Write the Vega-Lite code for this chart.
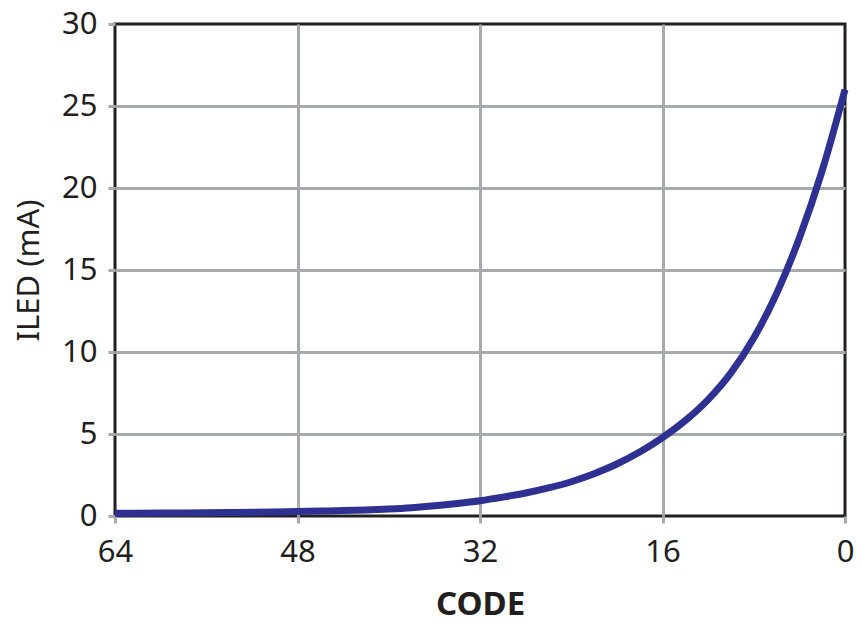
{
  "$schema": "https://vega.github.io/schema/vega-lite/v6.json",
  "width": 730,
  "height": 492,
  "autosize": {"type": "none"},
  "padding": {"left": 115, "top": 24, "right": 17, "bottom": 110},
  "background": "white",
  "config": {
    "view": {"stroke": "#231f20", "strokeWidth": 3},
    "font": "Noto Sans",
    "axis": {
      "domain": false,
      "gridColor": "#a7a9ac",
      "gridWidth": 3,
      "gridOpacity": {"condition": {"test": "datum.value == 0 || datum.value == 30 || datum.value == 64", "value": 0}, "value": 1},
      "tickColor": "#a7a9ac",
      "tickWidth": 3,
      "tickSize": 7,
      "labelFont": "Noto Sans",
      "labelFontSize": 31,
      "labelColor": "#231f20",
      "titleColor": "#231f20",
      "titleFont": "Noto Sans"
    }
  },
  "data": {
    "values": [
      {"code": 0, "iled": 26.0},
      {"code": 2, "iled": 21.06},
      {"code": 4, "iled": 16.95},
      {"code": 6, "iled": 13.56},
      {"code": 8, "iled": 10.85},
      {"code": 10, "iled": 8.73},
      {"code": 12, "iled": 7.1},
      {"code": 14, "iled": 5.82},
      {"code": 16, "iled": 4.78},
      {"code": 18, "iled": 3.9},
      {"code": 20, "iled": 3.17},
      {"code": 22, "iled": 2.58},
      {"code": 24, "iled": 2.09},
      {"code": 26, "iled": 1.71},
      {"code": 28, "iled": 1.4},
      {"code": 30, "iled": 1.15},
      {"code": 32, "iled": 0.93},
      {"code": 34, "iled": 0.76},
      {"code": 36, "iled": 0.62},
      {"code": 38, "iled": 0.51},
      {"code": 40, "iled": 0.43},
      {"code": 42, "iled": 0.37},
      {"code": 44, "iled": 0.33},
      {"code": 46, "iled": 0.3},
      {"code": 48, "iled": 0.27},
      {"code": 50, "iled": 0.245},
      {"code": 52, "iled": 0.225},
      {"code": 54, "iled": 0.21},
      {"code": 56, "iled": 0.195},
      {"code": 58, "iled": 0.185},
      {"code": 60, "iled": 0.178},
      {"code": 62, "iled": 0.172},
      {"code": 64, "iled": 0.167}
    ]
  },
  "mark": {"type": "line", "color": "#2e3192", "strokeWidth": 7, "interpolate": "monotone", "strokeCap": "butt", "clip": false},
  "encoding": {
    "x": {
      "field": "code",
      "type": "quantitative",
      "scale": {"domain": [0, 64], "reverse": true, "nice": false, "zero": false},
      "axis": {
        "values": [0, 16, 32, 48, 64],
        "title": "CODE",
        "titleFontSize": 33,
        "titleFontWeight": "bold",
        "titlePadding": 21,
        "labelPadding": 14,
        "labelFlush": false
      }
    },
    "y": {
      "field": "iled",
      "type": "quantitative",
      "scale": {"domain": [0, 30], "nice": false},
      "axis": {
        "values": [0, 5, 10, 15, 20, 25, 30],
        "title": "ILED (mA)",
        "titleFontSize": 31,
        "titleFontWeight": "normal",
        "titlePadding": 16,
        "labelPadding": 11
      }
    }
  }
}
